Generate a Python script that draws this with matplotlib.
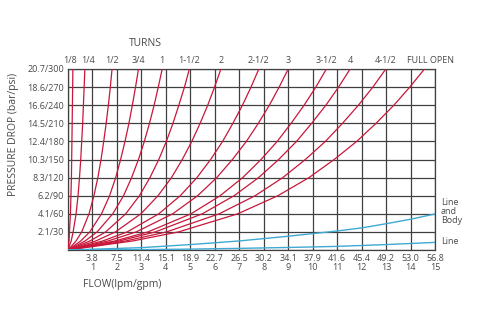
import matplotlib.pyplot as plt

plt.rcParams['font.family'] = ['Open Sans', 'DejaVu Sans']

# pressure levels (grid units, 1 unit = 2.07 bar / 30 psi)
press = [0, 0.5, 1, 2, 3, 4, 5, 6, 7, 8, 9, 10]

# flow (gpm) at the pressure levels above
turns = ["1/8", "1/4", "1/2", "3/4", "1", "1-1/2", "2", "2-1/2", "3",
         "3-1/2", "4", "4-1/2", "FULL OPEN"]
turn_flows = [
    [0, 0.04, 0.06, 0.10, 0.12, 0.14, 0.15, 0.16, 0.17, 0.18, 0.19, 0.20],
    [0, 0.13, 0.21, 0.33, 0.41, 0.47, 0.52, 0.56, 0.60, 0.63, 0.66, 0.69],
    [0, 0.33, 0.56, 0.86, 1.06, 1.22, 1.35, 1.46, 1.56, 1.65, 1.73, 1.80],
    [0, 0.52, 0.89, 1.37, 1.70, 1.95, 2.15, 2.33, 2.49, 2.63, 2.76, 2.88],
    [0, 0.70, 1.19, 1.83, 2.27, 2.60, 2.88, 3.12, 3.33, 3.52, 3.69, 3.85],
    [0, 0.90, 1.54, 2.36, 2.92, 3.35, 3.71, 4.02, 4.29, 4.53, 4.76, 4.96],
    [0, 1.14, 1.94, 2.98, 3.68, 4.23, 4.67, 5.06, 5.40, 5.71, 5.99, 6.25],
    [0, 1.42, 2.42, 3.71, 4.59, 5.27, 5.83, 6.32, 6.74, 7.13, 7.48, 7.80],
    [0, 1.64, 2.79, 4.28, 5.30, 6.08, 6.72, 7.29, 7.78, 8.23, 8.63, 9.00],
    [0, 1.92, 3.27, 5.03, 6.22, 7.14, 7.89, 8.55, 9.12, 9.65, 10.13, 10.56],
    [0, 2.10, 3.57, 5.49, 6.79, 7.79, 8.61, 9.34, 9.96, 10.54, 11.06, 11.53],
    [0, 2.36, 4.03, 6.18, 7.65, 8.78, 9.70, 10.52, 11.22, 11.87, 12.46, 12.99],
    [0, 2.65, 4.52, 6.94, 8.58, 9.85, 10.88, 11.80, 12.59, 13.32, 13.97, 14.57],
]

# blue curves (line / line and body)
blue_flow = [0, 3, 5, 7, 9, 11, 12, 13, 14, 15]
body_press = [0, 0.13, 0.30, 0.50, 0.76, 1.05, 1.22, 1.45, 1.70, 1.99]
line_press = [0, 0.02, 0.05, 0.09, 0.14, 0.20, 0.25, 0.30, 0.36, 0.42]

lpm = ["3.8", "7.5", "11.4", "15.1", "18.9", "22.7", "26.5", "30.2",
       "34.1", "37.9", "41.6", "45.4", "49.2", "53.0", "56.8"]
bar_psi = ["2.1/30", "4.1/60", "6.2/90", "8.3/120", "10.3/150", "12.4/180",
           "14.5/210", "16.6/240", "18.6/270", "20.7/300"]

txt = '#4a4a4a'
red = '#c8173a'
blue = '#3fa9d2'

fig = plt.figure(figsize=(4.78, 3.3), dpi=100)
ax = fig.add_axes([68 / 478, 80 / 330, 367 / 478, 181 / 330])

for fl in turn_flows:
    ax.plot(fl, press, color=red, lw=0.9, zorder=3)
ax.plot(blue_flow, body_press, color=blue, lw=1.0, zorder=3)
ax.plot(blue_flow, line_press, color=blue, lw=1.0, zorder=3)

ax.set_xlim(0, 15)
ax.set_ylim(0, 10)
ax.set_xticks(range(16))
ax.set_yticks(range(11))
ax.set_xticklabels([""] + [f"{a}\n{i + 1}" for i, a in enumerate(lpm)],
                   fontsize=6.5, color=txt, linespacing=0.95)
ax.set_yticklabels([""] + bar_psi, fontsize=6.5, color=txt)
ax.tick_params(length=0, pad=3)
ax.grid(True, color='#404040', lw=0.9)
for s in ax.spines.values():
    s.set_color('#404040')
    s.set_linewidth(0.9)

# turn labels above the curve ends
nudge = {"1/8": -0.12, "1/4": 0.12, "FULL OPEN": 0.25}
for lab, fl in zip(turns, turn_flows):
    ax.text(fl[-1] + nudge.get(lab, 0), 10.2, lab, ha='center', va='bottom',
            fontsize=6.5, color=txt)

fig.text(145 / 478, 1 - 43 / 330, "TURNS", ha='center', va='center',
         fontsize=7.5, color=txt)
fig.text(14 / 478, 1 - 134 / 330, "PRESSURE DROP (bar/psi)", rotation=90,
         ha='center', va='center', fontsize=7.5, color=txt)
fig.text(83 / 478, 1 - 285 / 330, "FLOW(lpm/gpm)", ha='left', va='center',
         fontsize=7.5, color=txt)

ax.text(15.25, body_press[-1] + 0.15, "Line\nand\nBody", ha='left',
        va='center', fontsize=6.5, color=txt, linespacing=1.0)
ax.text(15.25, line_press[-1] + 0.05, "Line", ha='left', va='center',
        fontsize=6.5, color=txt)

fig.savefig("out.png", dpi=100)
